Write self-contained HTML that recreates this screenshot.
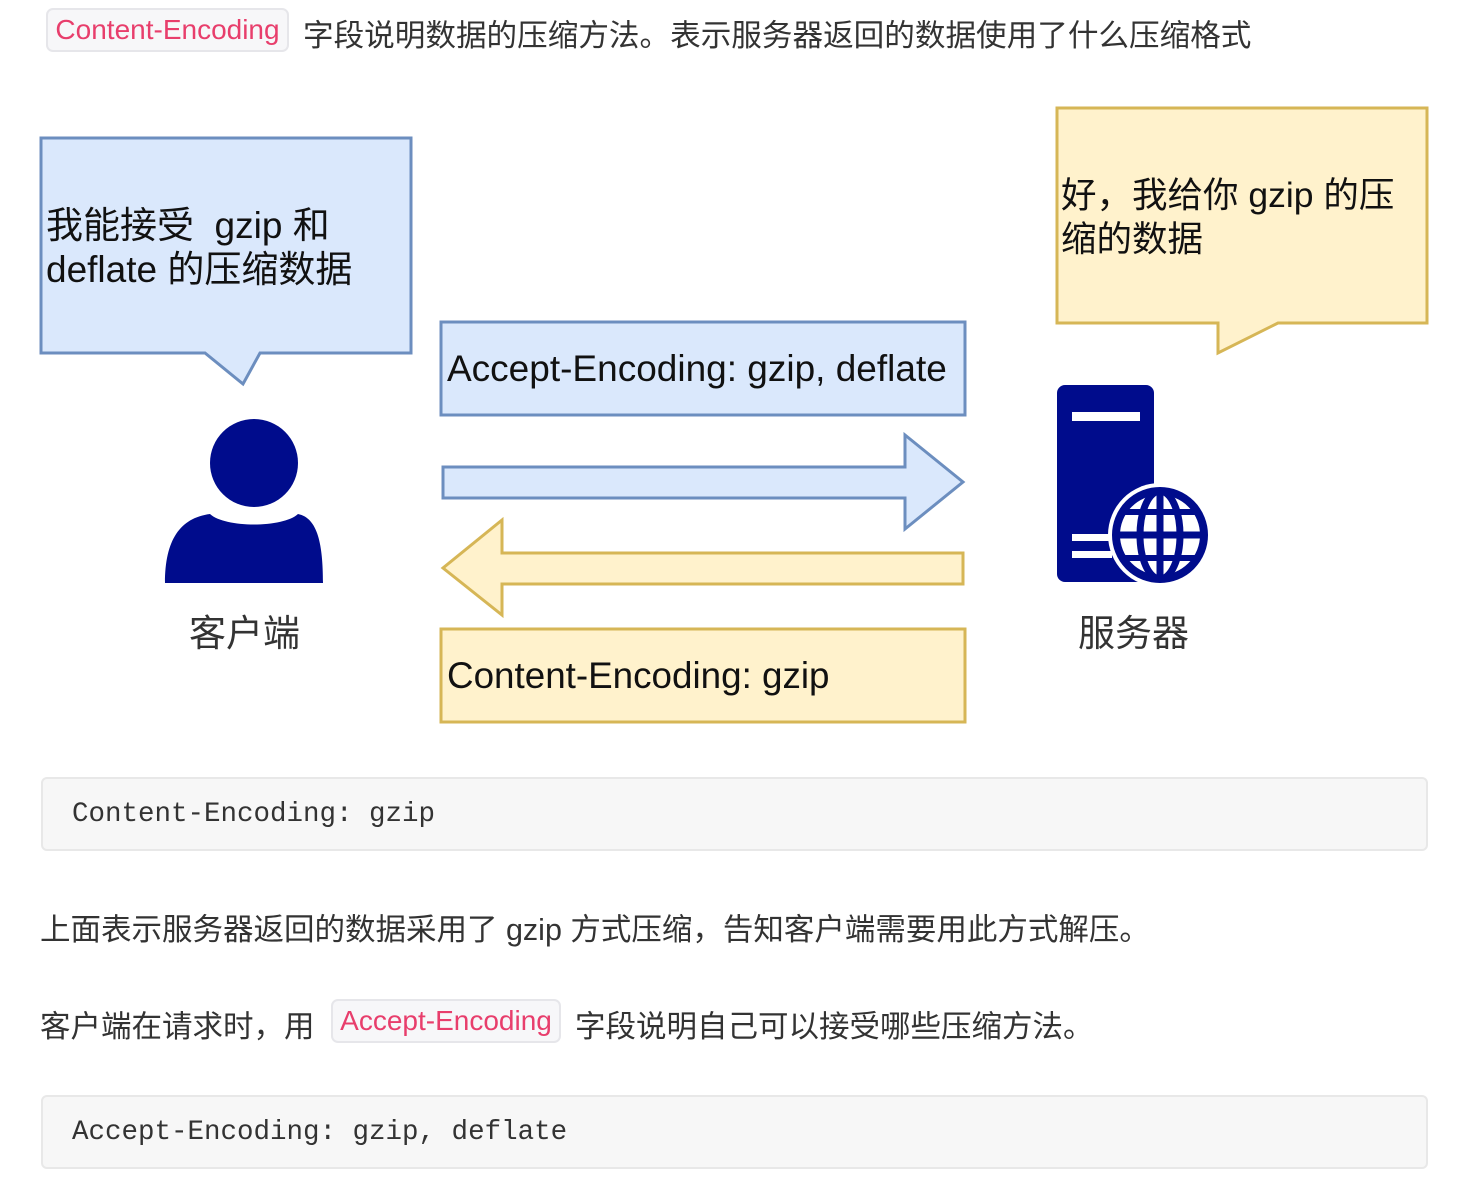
<!DOCTYPE html>
<html><head><meta charset="utf-8"><style>
body{margin:0;width:1480px;height:1192px;background:#fff;position:relative;overflow:hidden;font-family:"Liberation Sans","Noto Sans CJK SC",sans-serif;color:#333}
.a{position:absolute;white-space:nowrap}
.ic{position:absolute;background:#f7f7f9;border:2px solid #e6e6ea;border-radius:7px;color:#e83e6c;font-size:28px;box-sizing:border-box;text-align:center}
.code{position:absolute;left:41px;width:1387px;height:74px;background:#f7f7f7;border:2px solid #e8e8e8;border-radius:6px;box-sizing:border-box;font-family:"Liberation Mono",monospace;font-size:27.5px;color:#333;padding-left:29px;line-height:72px}
.t{font-size:30.5px}
.d{font-size:37px;color:#111}
</style></head><body>
<div class="ic" style="left:46px;top:8px;width:243px;height:44px;line-height:40px">Content-Encoding</div>
<div class="a t" style="left:303px;top:11px;font-size:30.6px">字段说明数据的压缩方法。表示服务器返回的数据使用了什么压缩格式</div>

<svg class="a" style="left:0;top:0" width="1480" height="760">
<polygon points="41,138 411,138 411,353 260,353 243,384 205,353 41,353" fill="#dae8fc" stroke="#6c8ebf" stroke-width="3"/>
<polygon points="1057,108 1427,108 1427,323 1278,323 1218,353 1218,323 1057,323" fill="#fff2cc" stroke="#d6b656" stroke-width="3"/>
<rect x="441" y="322" width="524" height="93" fill="#dae8fc" stroke="#6c8ebf" stroke-width="3"/>
<rect x="441" y="629" width="524" height="93" fill="#fff2cc" stroke="#d6b656" stroke-width="3"/>
<polygon points="443,467 905,467 905,435 963,482 905,529 905,498 443,498" fill="#dae8fc" stroke="#6c8ebf" stroke-width="3"/>
<polygon points="963,553 502,553 502,520 443,568 502,615 502,584 963,584" fill="#fff2cc" stroke="#d6b656" stroke-width="3"/>
<circle cx="254" cy="463" r="44" fill="#000c8c"/>
<path d="M165,583 C165,540 180,518 210,514 C225,528 283,528 298,514 C318,518 323,545 323,583 Z" fill="#000c8c"/>
<rect x="1057" y="385" width="97" height="197" rx="8" fill="#000c8c"/>
<rect x="1072" y="412" width="68" height="9" fill="#fff"/>
<rect x="1072" y="534" width="40" height="7" fill="#fff"/>
<rect x="1072" y="551" width="40" height="7" fill="#fff"/>
<circle cx="1160" cy="535" r="52" fill="#fff"/>
<circle cx="1160" cy="535" r="44" fill="none" stroke="#000c8c" stroke-width="8"/>
<ellipse cx="1160" cy="535" rx="20" ry="44" fill="none" stroke="#000c8c" stroke-width="7"/>
<line x1="1160" y1="491" x2="1160" y2="579" stroke="#000c8c" stroke-width="7"/>
<line x1="1116" y1="535" x2="1204" y2="535" stroke="#000c8c" stroke-width="7"/>
<line x1="1124" y1="512" x2="1196" y2="512" stroke="#000c8c" stroke-width="6"/>
<line x1="1124" y1="558" x2="1196" y2="558" stroke="#000c8c" stroke-width="6"/>
</svg>

<div class="a d" style="left:46px;top:204px;line-height:44px">我能接受&nbsp; gzip 和<br>deflate 的压缩数据</div>
<div class="a d" style="left:1061px;top:173px;line-height:44px;font-size:35.5px">好，我给你 gzip 的压<br>缩的数据</div>
<div class="a d" style="left:447px;top:348px">Accept-Encoding: gzip, deflate</div>
<div class="a d" style="left:447px;top:655px;font-size:36.8px">Content-Encoding: gzip</div>
<div class="a" style="left:189px;top:603px;font-size:37px;color:#333">客户端</div>
<div class="a" style="left:1078px;top:603px;font-size:37px;color:#333">服务器</div>

<div class="code" style="top:777px">Content-Encoding: gzip</div>
<div class="a t" style="left:40px;top:905px">上面表示服务器返回的数据采用了 gzip 方式压缩，告知客户端需要用此方式解压。</div>
<div class="a t" style="left:40px;top:1002px">客户端在请求时，用</div>
<div class="ic" style="left:331px;top:999px;width:230px;height:44px;line-height:40px">Accept-Encoding</div>
<div class="a t" style="left:575px;top:1002px">字段说明自己可以接受哪些压缩方法。</div>
<div class="code" style="top:1095px">Accept-Encoding: gzip, deflate</div>
</body></html>
